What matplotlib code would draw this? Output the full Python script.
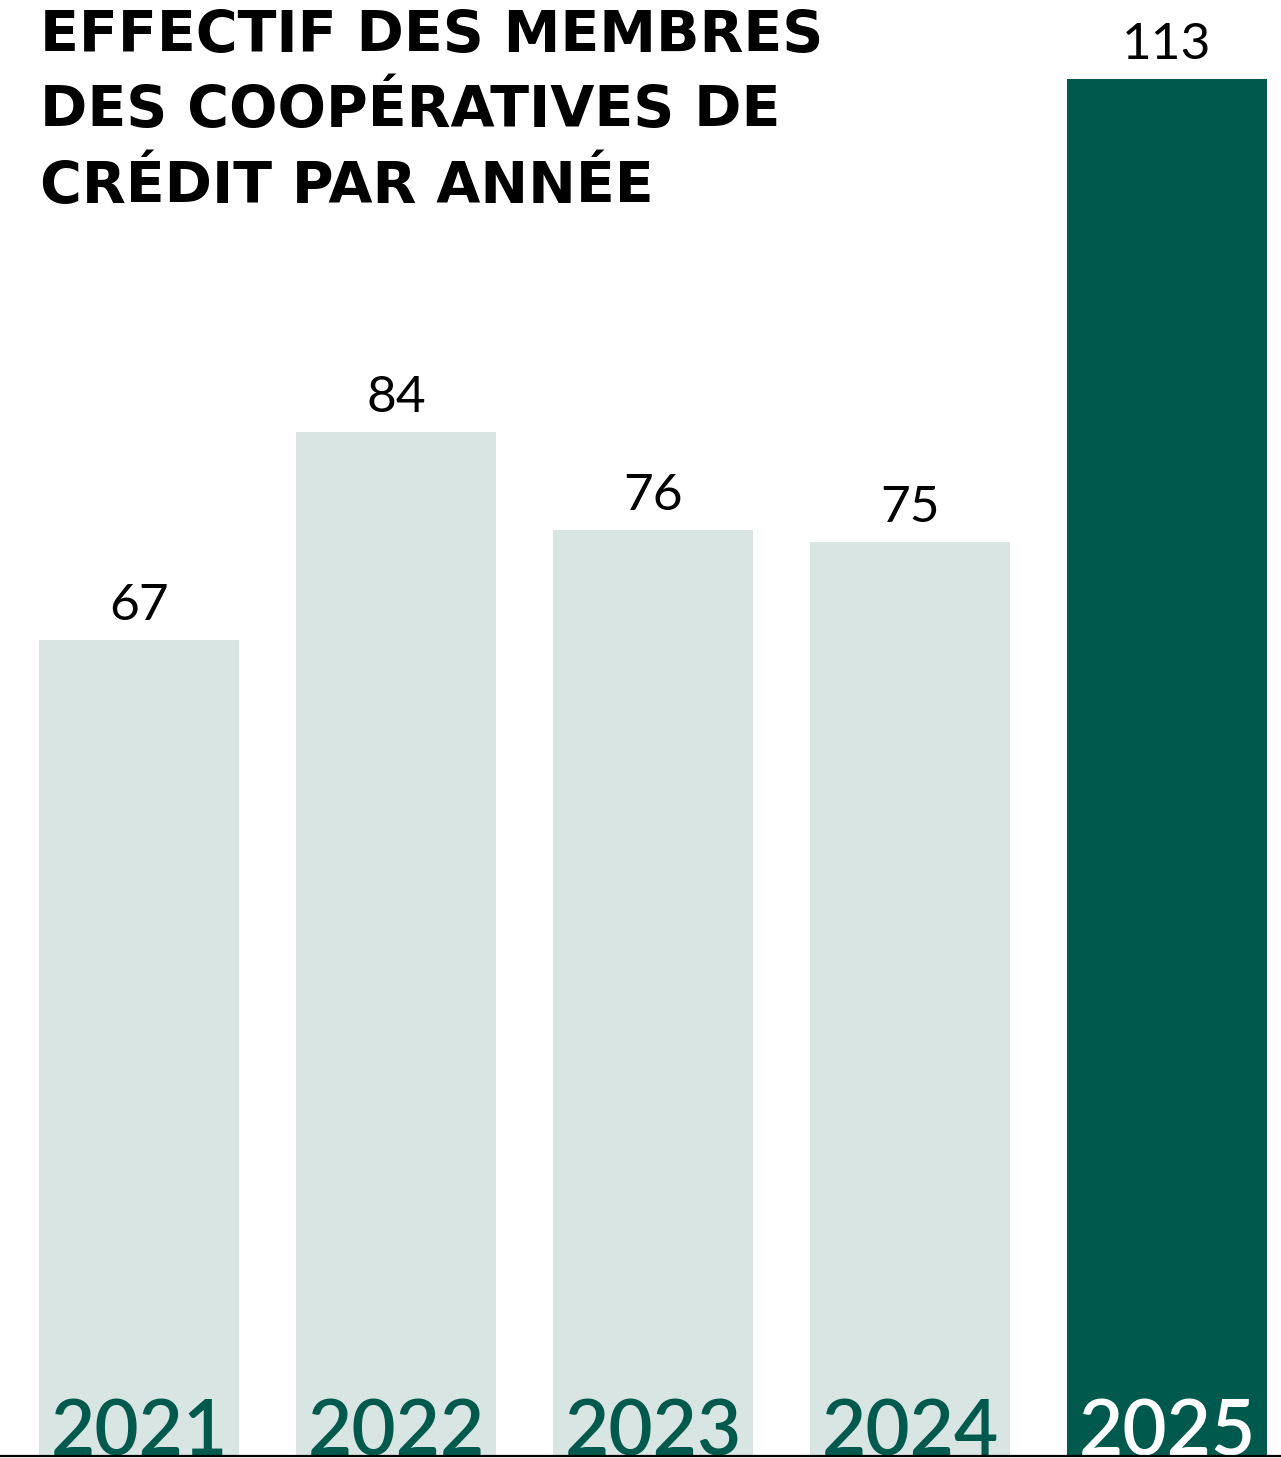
import matplotlib
matplotlib.use("Agg")
import matplotlib.pyplot as plt

years = ["2021", "2022", "2023", "2024", "2025"]
members = [67, 84, 76, 75, 113]
title_lines = ["EFFECTIF DES MEMBRES", "DES COOPÉRATIVES DE", "CRÉDIT PAR ANNÉE"]

pale = "#d9e5e2"
dark = "#00594d"

W, H = 1281, 1458
fig = plt.figure(figsize=(W / 100, H / 100), dpi=100)
ax = fig.add_axes([0, 0, 1, 1])

# pixel geometry: bar pitch 257 px, first centre at 139 px, baseline at 1456 px
pitch, first = 257, 139
ppu = 12.185  # pixels per member
ax.set_xlim((0 - first) / pitch, (W - first) / pitch)
ax.set_ylim(-2 / ppu, (H - 2) / ppu)
ax.axis("off")

colors = [pale] * (len(years) - 1) + [dark]
x = range(len(years))
ax.bar(x, members, width=200 / pitch, color=colors, zorder=1)
ax.axhline(0, color="black", lw=1.6, zorder=3)

for i, (yr, v) in enumerate(zip(years, members)):
    ax.text(i, v + 20 / ppu, str(v), ha="center", va="baseline",
            fontsize=37, family="Lato", color="black")
    ax.text(i, 1 / ppu, yr, ha="center", va="baseline", fontsize=55,
            family="Lato", weight="semibold",
            color="white" if i == len(years) - 1 else dark, zorder=2)

# title, one line at a time so the baselines stay put
for k, line in enumerate(title_lines):
    fig.text(40 / W, 1 - (52 + 75.5 * k) / H, line, ha="left", va="baseline",
             fontsize=41, family="DejaVu Sans", weight="bold", color="black")

fig.savefig("out.png", dpi=100)
